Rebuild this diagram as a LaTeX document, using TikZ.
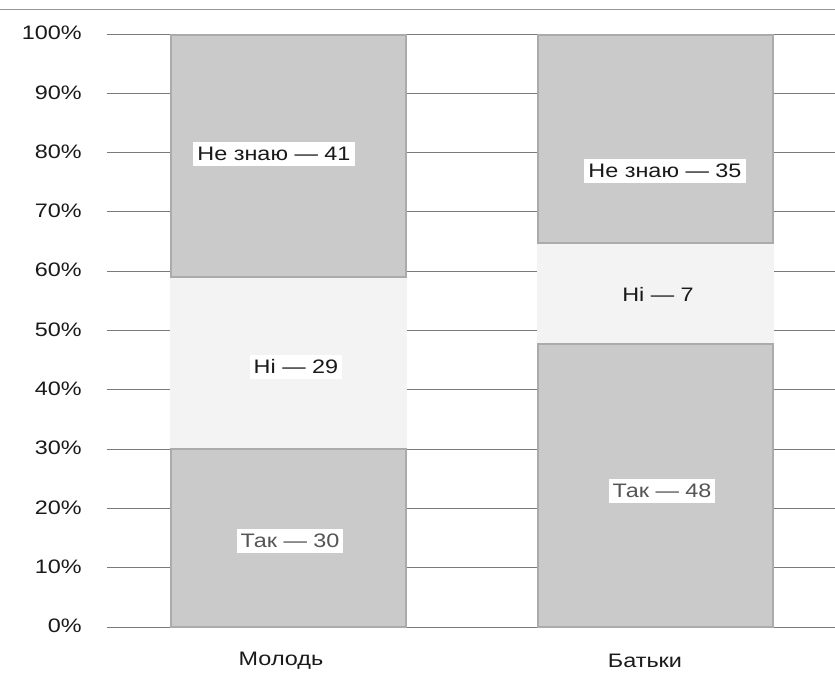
\documentclass[tikz,border=0pt]{standalone}
\usepackage{fontspec}
\setmainfont[FakeStretch=1.2]{Liberation Sans}
\definecolor{dark}{HTML}{CACACA}
\definecolor{darkedge}{HTML}{ABABAB}
\definecolor{light}{HTML}{F3F3F3}
\definecolor{grid}{HTML}{7A7A7A}
\definecolor{txt}{HTML}{1A1A1A}
\definecolor{txtgray}{HTML}{555555}
\begin{document}
\begin{tikzpicture}[x=1pt,y=-1pt,
  gridline/.style={draw=grid,line width=0.9pt},
  darkseg/.style={fill=dark,draw=darkedge,line width=1.6pt},
  lightseg/.style={fill=light,draw=none},
  tick/.style={anchor=east,font=\fontsize{19.5}{22}\selectfont,text=txt,inner sep=0pt},
  lab/.style={fill=white,inner xsep=4pt,inner ysep=5pt,font=\fontsize{19.5}{22}\selectfont,text=txt},
  catlab/.style={font=\fontsize{19.5}{22}\selectfont,text=txt}]
\useasboundingbox (0,0) rectangle (835,675);
\fill[white] (0,0) rectangle (835,675);
% top rule
\coordinate (tl) at (0,9);
\coordinate (tr) at (835,9);
\draw[draw=grid!80,line width=1pt] (tl) -- (tr);
% gridlines and tick labels
\foreach \p in {0,10,...,100}{
  \coordinate (gl\p) at (107,{627-5.93*\p});
  \coordinate (gr\p) at (835,{627-5.93*\p});
  \draw[gridline] (gl\p) -- (gr\p);
  \node[tick] (t\p) at (82,{626-5.93*\p}) {\p\%};
}
% bar 1: Молодь
\draw[darkseg] (171,449) rectangle (406,627);
\draw[darkseg] (171,35) rectangle (406,277);
\fill[lightseg] (170,278) rectangle (407,448);
% bar 2: Батьки
\draw[darkseg] (538,344) rectangle (773,627);
\draw[darkseg] (538,35) rectangle (773,243);
\fill[lightseg] (537,244) rectangle (774,343);
% labels
\node[lab] (a1) at (274,154) {Не знаю — 41};
\node[lab] (a2) at (296,367) {Ні — 29};
\node[lab,text=txtgray] (a3) at (290,541) {Так — 30};
\node[lab] (b1) at (665,171) {Не знаю — 35};
\node[lab,fill=light] (b2) at (658,294) {Ні — 7};
\node[lab,text=txtgray] (b3) at (662,491) {Так — 48};
\node[catlab] (c1) at (281,661) {Молодь};
\node[catlab] (c2) at (645,661) {Батьки};
\end{tikzpicture}
\end{document}
